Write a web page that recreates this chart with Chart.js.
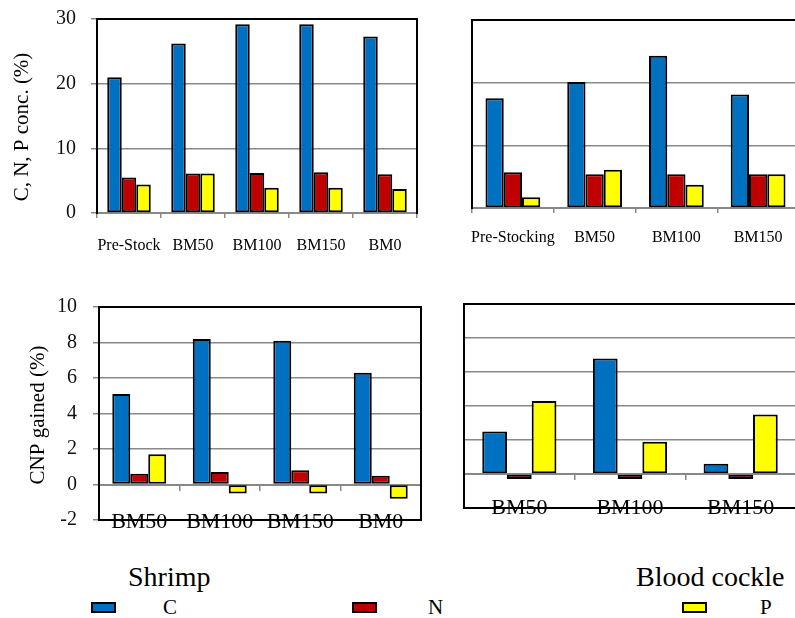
<!DOCTYPE html>
<html>
<head>
<meta charset="utf-8">
<title>C, N, P content and gain</title>
<script src="https://cdn.jsdelivr.net/npm/chart.js@4.4.1/dist/chart.umd.min.js"></script>
<style>
  html, body { margin: 0; padding: 0; background: #fff; }
  #page { position: relative; width: 795px; height: 618px; overflow: hidden; background: #fff;
          font-family: 'Liberation Serif', Tinos, 'Times New Roman', Times, 'Nimbus Roman', 'DejaVu Serif', serif; color: #000; }
  #page canvas { position: absolute; }
  .group { position: absolute; font-size: 28px; line-height: 28px; white-space: nowrap; }
  .swatch { position: absolute; width: 21px; height: 7px; border: 2px solid #000; }
  .key { position: absolute; font-size: 21px; line-height: 21px; }
</style>
</head>
<body>
<div id="page">
  <canvas id="shrimpConc" width="440" height="262" style="left:0;top:0"></canvas>
  <canvas id="cockleConc" width="340" height="262" style="left:460px;top:0"></canvas>
  <canvas id="shrimpGain" width="440" height="250" style="left:0;top:290px"></canvas>
  <canvas id="cockleGain" width="350" height="240" style="left:450px;top:290px"></canvas>
  <div class="group" style="left:128px;top:563px">Shrimp</div>
  <div class="group" style="left:636px;top:563px">Blood cockle</div>
  <div id="legend"></div>
</div>
<script>
// Element series and their fill colours
const SERIES = ['C', 'N', 'P'];
const COLORS = ['#0070C0', '#C00000', '#FFFF00'];

// Shrimp: element concentration (%)
const shrimpConcLabels = ['Pre-Stock', 'BM50', 'BM100', 'BM150', 'BM0'];
const shrimpConcC = [21.0, 26.2, 29.2, 29.2, 27.3];
const shrimpConcN = [5.5, 6.1, 6.2, 6.3, 6.0];
const shrimpConcP = [4.4, 6.1, 3.9, 3.9, 3.7];

// Blood cockle: element concentration (%)
const cockleConcLabels = ['Pre-Stocking', 'BM50', 'BM100', 'BM150'];
const cockleConcC = [17.5, 20.1, 24.3, 18.1];
const cockleConcN = [5.7, 5.4, 5.4, 5.4];
const cockleConcP = [1.7, 6.1, 3.7, 5.4];

// Shrimp: C, N, P gained (%)
const shrimpGainLabels = ['BM50', 'BM100', 'BM150', 'BM0'];
const shrimpGainC = [5.1, 8.2, 8.1, 6.3];
const shrimpGainN = [0.6, 0.7, 0.8, 0.5];
const shrimpGainP = [1.7, -0.5, -0.5, -0.8];

// Blood cockle: C, N, P gained (%)
const cockleGainLabels = ['BM50', 'BM100', 'BM150'];
const cockleGainC = [2.5, 6.8, 0.6];
const cockleGainN = [-0.3, -0.3, -0.3];
const cockleGainP = [4.3, 1.9, 3.5];

const FONT = "'Liberation Serif', Tinos, 'Times New Roman', Times, 'Nimbus Roman', 'DejaVu Serif', serif";

// Draws the black plot frame on the chosen sides, plus an optional rotated axis title
const framePlugin = {
  id: 'frame',
  afterDraw(chart, args, opts) {
    const { ctx, chartArea: a } = chart;
    ctx.save();
    ctx.strokeStyle = '#000';
    ctx.lineWidth = 2;
    ctx.lineCap = 'square';
    ctx.beginPath();
    const s = opts.sides || [];
    if (s.includes('top'))    { ctx.moveTo(a.left, a.top);    ctx.lineTo(a.right, a.top); }
    if (s.includes('right'))  { ctx.moveTo(a.right, a.top);   ctx.lineTo(a.right, a.bottom); }
    if (s.includes('bottom')) { ctx.moveTo(a.left, a.bottom); ctx.lineTo(a.right, a.bottom); }
    if (s.includes('left'))   { ctx.moveTo(a.left, a.top);    ctx.lineTo(a.left, a.bottom); }
    ctx.stroke();
    if (opts.title) {
      ctx.translate(opts.title.x, opts.title.y);
      ctx.rotate(-Math.PI / 2);
      ctx.font = '21px ' + FONT;
      ctx.fillStyle = '#000';
      ctx.textAlign = 'center';
      ctx.textBaseline = 'middle';
      ctx.fillText(opts.title.text, 0, 0);
    }
    ctx.restore();
  }
};

function makeDatasets(c, n, p) {
  return [c, n, p].map((data, i) => ({
    label: SERIES[i],
    data,
    backgroundColor: COLORS[i],
    borderColor: '#000',
    borderWidth: 2,
    borderSkipped: false
  }));
}

function buildChart(id, o) {
  return new Chart(document.getElementById(id), {
    type: 'bar',
    data: { labels: o.labels, datasets: makeDatasets(o.c, o.n, o.p) },
    plugins: [framePlugin],
    options: {
      responsive: false,
      animation: false,
      devicePixelRatio: 1,
      layout: { padding: o.padding },
      datasets: { bar: { categoryPercentage: o.catPct, barPercentage: 1 } },
      plugins: {
        legend: { display: false },
        tooltip: { enabled: false },
        frame: { sides: o.sides, title: o.title }
      },
      scales: {
        x: {
          position: o.xAtZero ? { y: 0 } : 'bottom',
          grid: { drawOnChartArea: false, drawTicks: true, tickLength: 5, color: '#888', lineWidth: 1.5 },
          border: { color: '#888', width: 2 },
          ticks: { font: { family: FONT, size: o.xFont }, color: '#000', padding: o.xPad,
                   maxRotation: 0, autoSkip: false },
          afterFit: s => {
            if (!o.xAtZero) s.height = o.xHeight;
            s.paddingLeft = 0; s.paddingRight = 0;
          }
        },
        y: {
          min: o.yMin, max: o.yMax,
          ticks: { stepSize: o.yStep, display: o.yTicks, font: { family: FONT, size: 20 },
                   color: '#111', padding: o.yPad },
          grid: { color: '#888', lineWidth: 1.5, drawTicks: o.yTicks, tickLength: 6 },
          border: { color: '#000', width: 2 },
          afterFit: s => {
            s.width = o.yWidth;
            s.paddingTop = 0; s.paddingBottom = 0;
          }
        }
      }
    }
  });
}

buildChart('shrimpConc', {
  labels: shrimpConcLabels, c: shrimpConcC, n: shrimpConcN, p: shrimpConcP,
  yMin: 0, yMax: 30, yStep: 10, yTicks: true, yPad: 15, yWidth: 97,
  xFont: 16, xPad: 18, xHeight: 49, xAtZero: false, catPct: 0.68,
  padding: { top: 19, right: 23, bottom: 0, left: 0 },
  sides: ['top', 'right', 'left'],
  title: { text: 'C, N, P conc. (%)', x: 22, y: 127 }
});

buildChart('cockleConc', {
  labels: cockleConcLabels, c: cockleConcC, n: cockleConcN, p: cockleConcP,
  yMin: 0, yMax: 30, yStep: 10, yTicks: false, yPad: 0, yWidth: 12,
  xFont: 16, xPad: 15, xHeight: 54, xAtZero: false, catPct: 0.67,
  padding: { top: 20, right: 1, bottom: 0, left: 0 },
  sides: ['top', 'left']
});

buildChart('shrimpGain', {
  labels: shrimpGainLabels, c: shrimpGainC, n: shrimpGainN, p: shrimpGainP,
  yMin: -2, yMax: 10, yStep: 2, yTicks: true, yPad: 16, yWidth: 99,
  xFont: 22, xPad: 20, xAtZero: true, catPct: 0.67,
  padding: { top: 17, right: 19, bottom: 20, left: 0 },
  sides: ['top', 'right', 'bottom', 'left'],
  title: { text: 'CNP gained (%)', x: 38, y: 125 }
});

buildChart('cockleGain', {
  labels: cockleGainLabels, c: cockleGainC, n: cockleGainN, p: cockleGainP,
  yMin: -2, yMax: 10, yStep: 2, yTicks: false, yPad: 0, yWidth: 14,
  xFont: 22, xPad: 16, xAtZero: true, catPct: 0.67,
  padding: { top: 14, right: 4, bottom: 22, left: 0 },
  sides: ['top', 'bottom', 'left']
});

// Shared key for the three elements
const legendPos = [
  { box: 91, text: 163 },
  { box: 352, text: 428 },
  { box: 682, text: 760 }
];
const legend = document.getElementById('legend');
SERIES.forEach((name, i) => {
  const sw = document.createElement('div');
  sw.className = 'swatch';
  sw.style.left = legendPos[i].box + 'px';
  sw.style.top = '602px';
  sw.style.background = COLORS[i];
  legend.appendChild(sw);
  const tx = document.createElement('div');
  tx.className = 'key';
  tx.style.left = legendPos[i].text + 'px';
  tx.style.top = '597px';
  tx.textContent = name;
  legend.appendChild(tx);
});
</script>
</body>
</html>
